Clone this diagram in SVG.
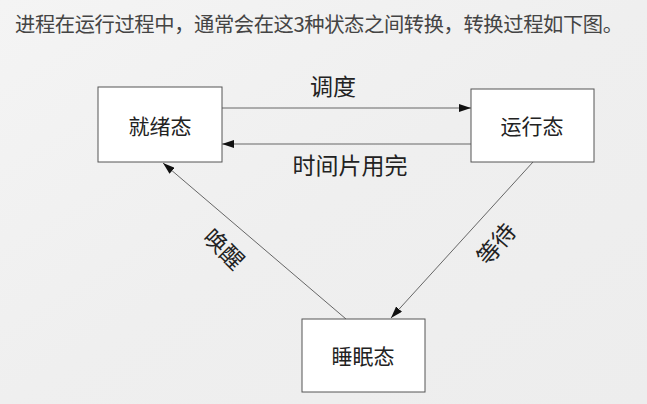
<svg xmlns="http://www.w3.org/2000/svg" width="647" height="404" viewBox="0 0 647 404">
<defs>
<linearGradient id="bg" x1="0" y1="0" x2="1" y2="1">
<stop offset="0" stop-color="#f4f4f4"/>
<stop offset="0.5" stop-color="#efefef"/>
<stop offset="1" stop-color="#ededed"/>
</linearGradient>
<marker id="arr" viewBox="0 0 12 8" refX="12" refY="4" markerWidth="12" markerHeight="8" markerUnits="userSpaceOnUse" orient="auto">
<path d="M0,0 L12,4 L0,8 z" fill="#111"/>
</marker>
<style>
.box{fill:#ffffff;stroke:#555;stroke-width:1}
.t{font-family:"Noto Sans CJK SC","Noto Sans",sans-serif;fill:#222;text-anchor:middle;dominant-baseline:central}
.n{font-size:21px}
.l{font-size:23px}
.edge{stroke:#666;stroke-width:1;fill:none;marker-end:url(#arr)}
</style>
</defs>
<rect width="647" height="404" fill="url(#bg)"/>
<text x="15" y="22.5" dominant-baseline="central" font-family="'Noto Sans CJK SC','Noto Sans',sans-serif" font-size="20.3" textLength="608" lengthAdjust="spacing" fill="#444">进程在运行过程中，通常会在这3种状态之间转换，转换过程如下图。</text>
<g id="edges">
<line class="edge" x1="222" y1="108" x2="471" y2="108"/>
<line class="edge" x1="471" y1="144" x2="222" y2="144"/>
<line class="edge" x1="346" y1="319" x2="163" y2="163"/>
<line class="edge" x1="533" y1="162" x2="391" y2="318"/>
<text class="t l" x="333" y="85">调度</text>
<text class="t l" x="350" y="164">时间片用完</text>
<text class="t l" transform="translate(225,248) rotate(45)">唤醒</text>
<text class="t l" transform="translate(495,243) rotate(-50)">等待</text>
</g>
<g id="ready">
<rect class="box" x="98" y="87" width="124" height="75"/>
<text class="t n" x="160" y="125">就绪态</text>
</g>
<g id="running">
<rect class="box" x="471" y="89" width="123" height="73"/>
<text class="t n" x="532" y="125">运行态</text>
</g>
<g id="sleeping">
<rect class="box" x="302" y="319" width="123" height="73"/>
<text class="t n" x="363" y="355">睡眠态</text>
</g>
</svg>
